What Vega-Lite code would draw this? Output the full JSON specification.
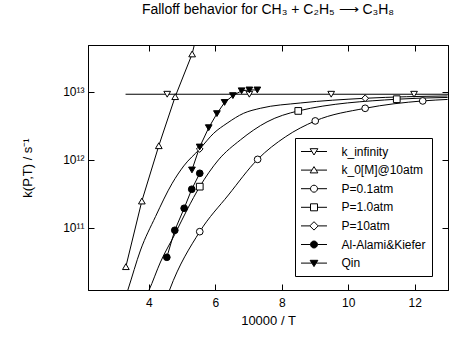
{
  "$schema": "https://vega.github.io/schema/vega-lite/v6.json",
  "width": 360,
  "height": 245,
  "autosize": "none",
  "padding": {"left": 88, "top": 45, "right": 19, "bottom": 61},
  "background": "white",
  "title": {"text": "Falloff behavior for CH₃ + C₂H₅ ⟶ C₃H₈", "fontSize": 14, "fontWeight": "normal", "font": "Liberation Sans", "color": "black", "offset": 28, "anchor": "middle"},
  "config": {
    "view": {"stroke": "black", "strokeWidth": 1},
    "axis": {"domainColor": "black", "domainWidth": 1, "tickColor": "black", "tickWidth": 1, "labelColor": "black", "titleColor": "black", "labelFont": "Liberation Sans", "titleFont": "Liberation Sans", "labelFontSize": 12, "titleFontSize": 13, "titleFontWeight": "normal", "grid": false, "tickSize": -6}
  },
  "datasets": {
    "curves": [
      {"s": "P=10atm", "x": 3.22, "k": 7.4e9},
      {"s": "P=10atm", "x": 3.369, "k": 1.225e10},
      {"s": "P=10atm", "x": 3.751, "k": 4.74e10},
      {"s": "P=10atm", "x": 4.201, "k": 1.47e11},
      {"s": "P=10atm", "x": 4.703, "k": 4.54e11},
      {"s": "P=10atm", "x": 5.051, "k": 8.17e11},
      {"s": "P=10atm", "x": 5.532, "k": 1.45e12},
      {"s": "P=10atm", "x": 5.952, "k": 2.47e12},
      {"s": "P=10atm", "x": 6.354, "k": 3.47e12},
      {"s": "P=10atm", "x": 6.853, "k": 4.86e12},
      {"s": "P=10atm", "x": 7.354, "k": 5.75e12},
      {"s": "P=10atm", "x": 8.556, "k": 6.88e12},
      {"s": "P=10atm", "x": 10.508, "k": 8.07e12},
      {"s": "P=10atm", "x": 12.988, "k": 8.73e12},
      {"s": "P=1.0atm", "x": 3.78, "k": 7.4e9},
      {"s": "P=1.0atm", "x": 4.006, "k": 1.22e10},
      {"s": "P=1.0atm", "x": 4.351, "k": 3.16e10},
      {"s": "P=1.0atm", "x": 4.802, "k": 8.43e10},
      {"s": "P=1.0atm", "x": 5.162, "k": 1.9e11},
      {"s": "P=1.0atm", "x": 5.532, "k": 4.05e11},
      {"s": "P=1.0atm", "x": 6.093, "k": 1.0e12},
      {"s": "P=1.0atm", "x": 6.754, "k": 1.97e12},
      {"s": "P=1.0atm", "x": 7.556, "k": 3.63e12},
      {"s": "P=1.0atm", "x": 8.495, "k": 5.26e12},
      {"s": "P=1.0atm", "x": 11.459, "k": 7.82e12},
      {"s": "P=1.0atm", "x": 12.988, "k": 8.3e12},
      {"s": "P=0.1atm", "x": 4.41, "k": 6.2e9},
      {"s": "P=0.1atm", "x": 4.622, "k": 1.22e10},
      {"s": "P=0.1atm", "x": 5.532, "k": 8.83e10},
      {"s": "P=0.1atm", "x": 6.393, "k": 3.05e11},
      {"s": "P=0.1atm", "x": 7.273, "k": 1.02e12},
      {"s": "P=0.1atm", "x": 8.105, "k": 2.18e12},
      {"s": "P=0.1atm", "x": 9.006, "k": 3.75e12},
      {"s": "P=0.1atm", "x": 10.508, "k": 5.75e12},
      {"s": "P=0.1atm", "x": 12.24, "k": 7.38e12},
      {"s": "P=0.1atm", "x": 12.988, "k": 7.76e12},
      {"s": "k_infinity", "x": 3.30, "k": 9.25e12},
      {"s": "k_infinity", "x": 13.0, "k": 9.25e12},
      {"s": "k_0[M]@10atm", "x": 3.309, "k": 2.70e10},
      {"s": "k_0[M]@10atm", "x": 3.79, "k": 2.49e11},
      {"s": "k_0[M]@10atm", "x": 4.30, "k": 1.62e12},
      {"s": "k_0[M]@10atm", "x": 4.793, "k": 8.53e12},
      {"s": "k_0[M]@10atm", "x": 5.303, "k": 3.62e13},
      {"s": "k_0[M]@10atm", "x": 5.462, "k": 7.6e13},
      {"s": "Al-Alami&Kiefer", "x": 4.541, "k": 3.71e10},
      {"s": "Al-Alami&Kiefer", "x": 4.781, "k": 9.25e10},
      {"s": "Al-Alami&Kiefer", "x": 5.063, "k": 1.95e11},
      {"s": "Al-Alami&Kiefer", "x": 5.291, "k": 3.71e11},
      {"s": "Al-Alami&Kiefer", "x": 5.532, "k": 6.37e11},
      {"s": "Qin", "x": 5.297, "k": 7.13e11},
      {"s": "Qin", "x": 5.529, "k": 1.55e12},
      {"s": "Qin", "x": 5.802, "k": 2.98e12},
      {"s": "Qin", "x": 6.048, "k": 4.80e12},
      {"s": "Qin", "x": 6.279, "k": 7.01e12},
      {"s": "Qin", "x": 6.529, "k": 8.83e12},
      {"s": "Qin", "x": 6.79, "k": 1.04e13},
      {"s": "Qin", "x": 7.024, "k": 1.07e13},
      {"s": "Qin", "x": 7.264, "k": 1.07e13}
    ],
    "markers": [
      {"s": "k_infinity", "x": 4.553, "k": 9.25e12},
      {"s": "k_infinity", "x": 7.024, "k": 9.25e12},
      {"s": "k_infinity", "x": 9.486, "k": 9.25e12},
      {"s": "k_infinity", "x": 11.979, "k": 9.25e12},
      {"s": "k_0[M]@10atm", "x": 3.309, "k": 2.70e10},
      {"s": "k_0[M]@10atm", "x": 3.79, "k": 2.49e11},
      {"s": "k_0[M]@10atm", "x": 4.30, "k": 1.62e12},
      {"s": "k_0[M]@10atm", "x": 4.793, "k": 8.53e12},
      {"s": "k_0[M]@10atm", "x": 5.303, "k": 3.62e13},
      {"s": "P=0.1atm", "x": 5.532, "k": 8.83e10},
      {"s": "P=0.1atm", "x": 7.273, "k": 1.02e12},
      {"s": "P=0.1atm", "x": 9.006, "k": 3.75e12},
      {"s": "P=0.1atm", "x": 10.508, "k": 5.75e12},
      {"s": "P=0.1atm", "x": 12.24, "k": 7.38e12},
      {"s": "P=1.0atm", "x": 5.532, "k": 4.05e11},
      {"s": "P=1.0atm", "x": 8.495, "k": 5.26e12},
      {"s": "P=1.0atm", "x": 11.459, "k": 7.82e12},
      {"s": "P=10atm", "x": 5.532, "k": 1.45e12},
      {"s": "P=10atm", "x": 10.508, "k": 8.07e12},
      {"s": "Al-Alami&Kiefer", "x": 4.541, "k": 3.71e10},
      {"s": "Al-Alami&Kiefer", "x": 4.781, "k": 9.25e10},
      {"s": "Al-Alami&Kiefer", "x": 5.063, "k": 1.95e11},
      {"s": "Al-Alami&Kiefer", "x": 5.291, "k": 3.71e11},
      {"s": "Al-Alami&Kiefer", "x": 5.532, "k": 6.37e11},
      {"s": "Qin", "x": 5.297, "k": 7.13e11},
      {"s": "Qin", "x": 5.529, "k": 1.55e12},
      {"s": "Qin", "x": 5.802, "k": 2.98e12},
      {"s": "Qin", "x": 6.048, "k": 4.80e12},
      {"s": "Qin", "x": 6.279, "k": 7.01e12},
      {"s": "Qin", "x": 6.529, "k": 8.83e12},
      {"s": "Qin", "x": 6.79, "k": 1.04e13},
      {"s": "Qin", "x": 7.024, "k": 1.07e13},
      {"s": "Qin", "x": 7.264, "k": 1.07e13}
    ]
  },
  "layer": [
    {
      "data": {"name": "curves"},
      "transform": [{"filter": "indexof(['P=0.1atm','P=1.0atm','P=10atm'], datum.s) >= 0"}],
      "mark": {"type": "line", "interpolate": "monotone", "color": "black", "strokeWidth": 1, "clip": true},
      "encoding": {
        "x": {"field": "x", "type": "quantitative", "scale": {"domain": [2.17, 13], "nice": false, "zero": false},
              "axis": {"orient": "bottom", "values": [4, 6, 8, 10, 12], "title": "10000 / T", "labelPadding": 13, "titlePadding": 6}},
        "y": {"field": "k", "type": "quantitative", "scale": {"type": "log", "domain": [1.225e10, 4.9e13], "nice": false},
              "axis": {"orient": "left", "values": [1e11, 1e12, 1e13], "labelExpr": "datum.value > 5e12 ? '10¹³' : datum.value > 5e11 ? '10¹²' : '10¹¹'", "title": "k(P,T) / s⁻¹", "labelPadding": 10, "titlePadding": 28}},
        "detail": {"field": "s"}
      }
    },
    {
      "data": {"name": "curves"},
      "transform": [{"filter": "indexof(['P=0.1atm','P=1.0atm','P=10atm'], datum.s) < 0"}],
      "mark": {"type": "line", "color": "black", "strokeWidth": 1, "clip": true},
      "encoding": {
        "x": {"field": "x", "type": "quantitative", "axis": {"orient": "top", "values": [4, 6, 8, 10, 12], "labels": false, "title": null}},
        "y": {"field": "k", "type": "quantitative", "axis": {"orient": "right", "values": [1e11, 1e12, 1e13], "labels": false, "title": null}},
        "detail": {"field": "s"}
      }
    },
    {
      "data": {"name": "markers"},
      "mark": {"type": "point", "stroke": "black", "strokeWidth": 1, "opacity": 1, "clip": true},
      "encoding": {
        "x": {"field": "x", "type": "quantitative", "axis": null},
        "y": {"field": "k", "type": "quantitative", "axis": null},
        "shape": {"field": "s", "type": "nominal", "legend": null,
                  "scale": {"domain": ["k_infinity", "k_0[M]@10atm", "P=0.1atm", "P=1.0atm", "P=10atm", "Al-Alami&Kiefer", "Qin"],
                            "range": ["triangle-down", "triangle-up", "circle", "square", "diamond", "circle", "triangle-down"]}},
        "fill": {"field": "s", "type": "nominal", "legend": null,
                 "scale": {"domain": ["k_infinity", "k_0[M]@10atm", "P=0.1atm", "P=1.0atm", "P=10atm", "Al-Alami&Kiefer", "Qin"],
                           "range": ["white", "white", "white", "white", "white", "black", "black"]}},
        "size": {"field": "s", "type": "nominal", "legend": null,
                 "scale": {"domain": ["k_infinity", "k_0[M]@10atm", "P=0.1atm", "P=1.0atm", "P=10atm", "Al-Alami&Kiefer", "Qin"],
                           "range": [45, 45, 40, 45, 70, 50, 50]}}
      }
    },
    {
      "data": {"name": "markers"},
      "transform": [{"filter": "datum.x > 100"}],
      "mark": {"type": "point", "stroke": "black", "strokeWidth": 1, "size": 196},
      "encoding": {
        "x": {"field": "x", "type": "quantitative", "axis": null},
        "y": {"field": "k", "type": "quantitative", "axis": null},
        "shape": {"field": "s", "type": "nominal",
                  "scale": {"domain": ["k_infinity", "k_0[M]@10atm", "P=0.1atm", "P=1.0atm", "P=10atm", "Al-Alami&Kiefer", "Qin"],
                            "range": [
                              "M-1.857,0L-0.306,0M0.306,0L1.857,0M-0.55,-0.4L0.55,-0.4L0,0.5Z",
                              "M-1.857,0L-0.306,0M0.306,0L1.857,0M-0.55,0.4L0.55,0.4L0,-0.5Z",
                              "M-1.857,0L-0.5,0M0.5,0L1.857,0M-0.5,0A0.5,0.5,0,1,1,0.5,0A0.5,0.5,0,1,1,-0.5,0Z",
                              "M-1.857,0L-0.5,0M0.5,0L1.857,0M-0.5,-0.5L0.5,-0.5L0.5,0.5L-0.5,0.5Z",
                              "M-1.857,0L-0.6,0M0.6,0L1.857,0M-0.6,0L0,-0.6L0.6,0L0,0.6Z",
                              "M-1.857,0L-0.5,0M0.5,0L1.857,0M-0.5,0A0.5,0.5,0,1,1,0.5,0A0.5,0.5,0,1,1,-0.5,0Z",
                              "M-1.857,0L-0.306,0M0.306,0L1.857,0M-0.55,-0.4L0.55,-0.4L0,0.5Z"
                            ]},
                  "legend": {"orient": "none", "legendX": 207, "legendY": 93, "title": null, "strokeColor": "black", "fillColor": "white", "padding": 6, "rowPadding": 4.6, "symbolSize": 196, "symbolOffset": 5.5, "labelOffset": 20, "labelFont": "Liberation Sans", "labelFontSize": 12, "labelColor": "black", "labelLimit": 200, "symbolStrokeColor": "black", "symbolStrokeWidth": 1, "symbolOpacity": 1,
                             "encode": {"symbols": {"update": {"opacity": {"value": 1}, "stroke": {"value": "black"}, "strokeWidth": {"value": 1}}}}}},
        "fill": {"field": "s", "type": "nominal",
                 "scale": {"domain": ["k_infinity", "k_0[M]@10atm", "P=0.1atm", "P=1.0atm", "P=10atm", "Al-Alami&Kiefer", "Qin"],
                           "range": ["white", "white", "white", "white", "white", "black", "black"]},
                 "legend": {"orient": "none", "legendX": 207, "legendY": 93, "title": null, "strokeColor": "black", "fillColor": "white", "padding": 6, "rowPadding": 4.6, "symbolSize": 196, "symbolOffset": 5.5, "labelOffset": 20, "labelFont": "Liberation Sans", "labelFontSize": 12, "labelColor": "black", "labelLimit": 200, "symbolStrokeColor": "black", "symbolStrokeWidth": 1, "symbolOpacity": 1,
                            "encode": {"symbols": {"update": {"opacity": {"value": 1}, "stroke": {"value": "black"}, "strokeWidth": {"value": 1}}}}}}
      }
    }
  ],
  "resolve": {
    "scale": {"shape": "independent", "fill": "independent", "size": "independent"},
    "axis": {"x": "independent", "y": "independent"},
    "legend": {"shape": "independent", "fill": "independent"}
  }
}
